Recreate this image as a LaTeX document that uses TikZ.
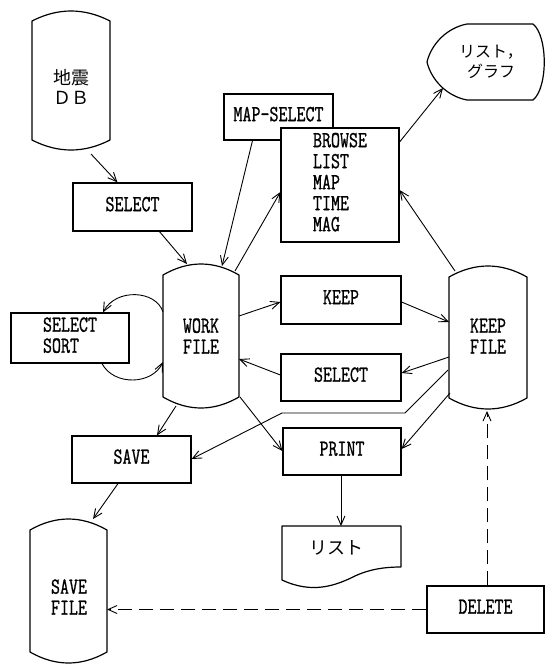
\documentclass[tikz,border=0pt]{standalone}
\usepackage{fontspec}
\newfontfamily\jp{Noto Sans CJK JP}
\newfontfamily\mono{Latin Modern Mono}[FakeBold=1.2]
\usetikzlibrary{arrows.meta}
\newcommand\cond[1]{\scalebox{0.76}[1]{\begin{tabular}{@{}l@{}}#1\end{tabular}}}
\newcommand\drumpath[5]{%
  \draw[outl] (#1,#3) .. controls ({#1+(#2-#1)/3},{#3-4*#5/3}) and ({#2-(#2-#1)/3},{#3-4*#5/3}) .. (#2,#3)
   -- (#2,#4) .. controls ({#2-(#2-#1)/3},{#4+4*#5/3}) and ({#1+(#2-#1)/3},{#4+4*#5/3}) .. (#1,#4) -- cycle;}
\begin{document}
\begin{tikzpicture}[x=1pt,y=-1pt,
  outl/.style={line width=1.2pt, line join=round},
  txt/.style={font=\fontsize{23}{21}\selectfont\mono, inner sep=0pt},
  box/.style={draw, line width=1.2pt, fill=white, inner sep=0pt, font=\fontsize{23}{21}\selectfont\mono},
  jtxt/.style={font=\fontsize{18}{20}\selectfont\jp, inner sep=0pt, align=center},
  arr/.style={line width=0.9pt, -{Straight Barb[length=9pt,width=8pt,line width=0.9pt]}},
  dsh/.style={arr, dash pattern=on 14pt off 7pt}]
\useasboundingbox (0,0) rectangle (550,665);

% drums
\drumpath{32}{110}{21}{140}{10}
\node[jtxt] (db) at (71,87) {地震\\ＤＢ};
\drumpath{163}{239}{275}{397}{11}
\node[txt] (wf) at (201,339) {\cond{WORK\\FILE}};
\drumpath{449}{527}{277}{398}{11}
\node[txt] (kf) at (488,339) {\cond{KEEP\\FILE}};
\drumpath{30}{107}{530}{652}{11}
\node[txt] (sf) at (69,600) {\cond{SAVE\\FILE}};

% boxes
\node[box, minimum width=119pt, minimum height=48pt] (sel1) at (132.5,207) {\cond{SELECT}};
\node[box, minimum width=118pt, minimum height=50pt] (ss) at (70,338) {\cond{SELECT\\SORT}};
\node[box, minimum width=109pt, minimum height=46pt] (ms) at (278.5,117) {\cond{MAP-SELECT}};
\node[box, minimum width=118pt, minimum height=114pt] (br) at (340,185) {\cond{BROWSE\\LIST\\MAP\\TIME\\MAG}};
\node[box, minimum width=120pt, minimum height=48pt] (keep) at (341,300) {\cond{KEEP}};
\node[box, minimum width=120pt, minimum height=47pt] (sel2) at (341,377.5) {\cond{SELECT}};
\node[box, minimum width=118pt, minimum height=47pt] (pr) at (342,451.5) {\cond{PRINT}};
\node[box, minimum width=119pt, minimum height=47pt] (sv) at (131.5,459.5) {\cond{SAVE}};
\node[box, minimum width=117pt, minimum height=47pt] (del) at (485.5,609.5) {\cond{DELETE}};

% display
\draw[outl] (427,62) .. controls (431,45) and (446,28) .. (467,24) -- (533,24)
  .. controls (548,36) and (548,88) .. (533,100) -- (467,100)
  .. controls (446,96) and (431,79) .. (427,62) -- cycle;
\node[jtxt, font=\fontsize{16}{20}\selectfont\jp] (disp) at (491,62) {リスト，\\グラフ};

% document
\draw[outl] (282,526) -- (401,526) -- (401,567)
  .. controls (385,567) and (370,569) .. (355,576)
  .. controls (335,586) and (312,594) .. (282,580) -- cycle;
\node[jtxt] (doc) at (336,548) {リスト};

% named points on drums
\coordinate (wfT1) at (187,264);
\coordinate (wfT2) at (222,266);
\coordinate (wfT3) at (235,271);
\coordinate (wfB1) at (176,406);
\coordinate (wfB2) at (240,397);
\coordinate (kfT) at (455,271);
\coordinate (kfB) at (487,411);
\coordinate (kfL4) at (450,393);
\coordinate (dbB) at (91,154);
\coordinate (sfT) at (93,519);
\coordinate (k1) at (405,413);
\coordinate (k2) at (282,413);
\coordinate (dispP) at (443,88);

% connectors
\draw[arr] (dbB) -- ([xshift=-15pt]sel1.north);
\draw[arr] ([xshift=27pt]sel1.south) -- (wfT1);
\draw[arr] ([xshift=-26pt]ms.south) -- (wfT2);
\draw[arr] (wfT3) -- ([yshift=-7pt]br.west);
\draw[arr] ([yshift=43pt]br.east) -- (dispP);
\draw[arr] (kfT) -- ([yshift=-5pt]br.east);
\draw[arr] ([yshift=23pt]wf.east -| 239,0) -- ([yshift=-2pt]keep.west);
\draw[arr] ([yshift=-2pt]keep.east) -- (449,322);
\draw[arr] (449,357) -- ([yshift=4.5pt]sel2.east);
\draw[arr] ([yshift=2.5pt]sel2.west) -- (239,359);
\draw[arr] (448,370) -- (k1) -- (k2) -- ([yshift=0.5pt]sv.east);
\draw[arr] (kfL4) -- ([yshift=2.5pt]pr.east);
\draw[arr] (wfB2) -- ([yshift=0.5pt]pr.west);
\draw[arr] (wfB1) -- ([xshift=25.5pt]sv.north);
\draw[arr] ([xshift=-13.5pt]sv.south) -- (sfT);
\draw[arr] ([xshift=-1pt]pr.south) -- (341,526);
\draw[dsh] ([xshift=1.5pt]del.north) -- (kfB);
\draw[dsh] (del.west) -- (107,609.5);
\draw[arr] (163,312) .. controls (156,290) and (116,288) .. ([xshift=33pt]ss.north);
\draw[arr] ([xshift=32pt]ss.south) .. controls (114,386) and (152,385) .. (163,362);
\end{tikzpicture}
\end{document}
